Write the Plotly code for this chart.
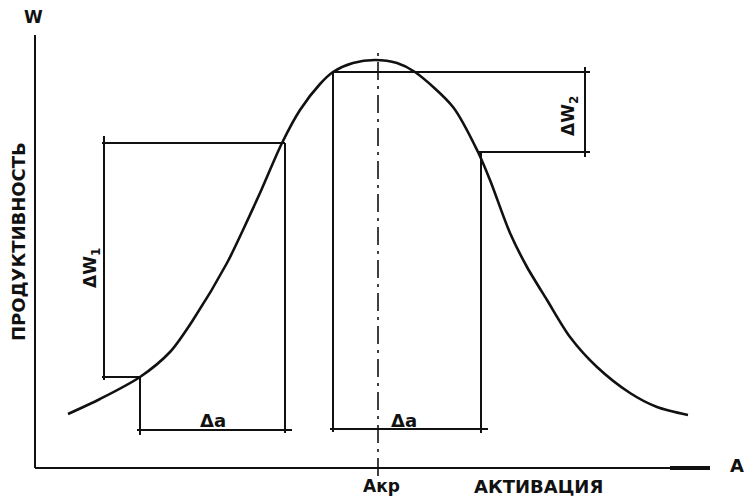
import plotly.graph_objects as go

# Productivity W versus activation A (arbitrary units)
activation = [33, 65, 105, 135, 158, 192, 208, 225, 247, 265, 285, 298, 318, 340,
              362, 380, 418, 443, 455, 475, 492, 512, 535, 562, 595, 622, 653]
productivity = [54, 69, 91, 116, 148, 205, 238, 275, 325, 358, 384, 396, 405, 408,
                405, 396, 361, 316, 288, 235, 201, 168, 131, 101, 75, 61, 53]

a_critical = 343            # Акр
a_max, w_max = 675, 433     # axis extents

# Left construction: Δa interval on rising slope and resulting ΔW1
left_a = [105, 250]
left_w = [91, 325]
left_w_bar_a = 69           # where ΔW1 bracket is drawn
left_a_bar_w = 38           # where Δa bracket is drawn

# Right construction: Δa interval around the optimum and resulting ΔW2
right_a = [298, 446]
right_w = [316, 396]
right_w_bar_a = 550
right_a_bar_w = 39

BLACK = "#111111"
FONT = "DejaVu Sans"

fig = go.Figure()

def seg(xs, ys, width=2.0, dash=None):
    fig.add_trace(go.Scatter(x=xs, y=ys, mode="lines",
                             line=dict(color=BLACK, width=width, dash=dash),
                             hoverinfo="skip", showlegend=False))

# axes
seg([0, 0], [0, w_max], 2)
seg([0, a_max], [0, 0], 2)
seg([a_max - 40, a_max], [0, 0], 4)

# left construction
seg([left_w_bar_a - 2, left_a[1]], [left_w[1], left_w[1]], 2)
seg([left_w_bar_a, left_w_bar_a], [left_w[0] - 3, left_w[1] + 7], 2)
seg([left_w_bar_a - 2, left_a[0]], [left_w[0], left_w[0]], 2)
seg([left_a[0], left_a[0]], [left_a_bar_w - 5, left_w[0]], 2)
seg([left_a[1], left_a[1]], [left_a_bar_w - 3, left_w[1]], 2)
seg([left_a[0] - 3, left_a[1] + 7], [left_a_bar_w, left_a_bar_w], 2)

# right construction
seg([right_a[0], right_a[0]], [right_a_bar_w - 3, right_w[1]], 2)
seg([right_a[0], right_w_bar_a + 5], [right_w[1], right_w[1]], 2)
seg([right_w_bar_a, right_w_bar_a], [right_w[0] - 5, right_w[1] + 5], 2)
seg([right_a[1] - 3, right_w_bar_a + 5], [right_w[0], right_w[0]], 2)
seg([right_a[1], right_a[1]], [right_a_bar_w - 4, right_w[0]], 2)
seg([right_a[0] - 3, right_a[1] + 7], [right_a_bar_w, right_a_bar_w], 2)

# critical activation (dash-dot)
seg([a_critical, a_critical], [-8, 420], 1.6, "18px,6px,3px,6px")

# bell curve
fig.add_trace(go.Scatter(x=activation, y=productivity, mode="lines",
                         line=dict(color=BLACK, width=2.6, shape="spline", smoothing=0.8),
                         hoverinfo="skip", showlegend=False))

def label(x, y, text, size=16, angle=0):
    fig.add_annotation(x=x, y=y, text=text, showarrow=False, textangle=angle,
                       font=dict(family=FONT, size=size, color=BLACK),
                       xanchor="center", yanchor="middle")

label(-2, 451, "<b>W</b>", 17)
label(702, 3, "<b>A</b>", 18)
label(346, -18, "<b>Акр</b>", 17)
label(503, -18, "<b>АКТИВАЦИЯ</b>", 18)
label(-17, 226, "<b>ПРОДУКТИВНОСТЬ</b>", 18, -90)
label(56, 200, "<b>ΔW<sub>1</sub></b>", 17, -90)
label(534, 352, "<b>ΔW<sub>2</sub></b>", 17, -90)
label(178, 48, "<b>Δa</b>", 18)
label(369, 48, "<b>Δa</b>", 18)

fig.update_layout(
    width=744, height=496,
    margin=dict(l=0, r=0, t=0, b=0),
    paper_bgcolor="white", plot_bgcolor="white",
    xaxis=dict(range=[-35, 709], visible=False, fixedrange=True),
    yaxis=dict(range=[-28, 468], visible=False, fixedrange=True),
)

fig.write_html("out.html", config={"displayModeBar": False},
               post_script="document.body.style.margin='0';document.body.style.overflow='hidden';")
